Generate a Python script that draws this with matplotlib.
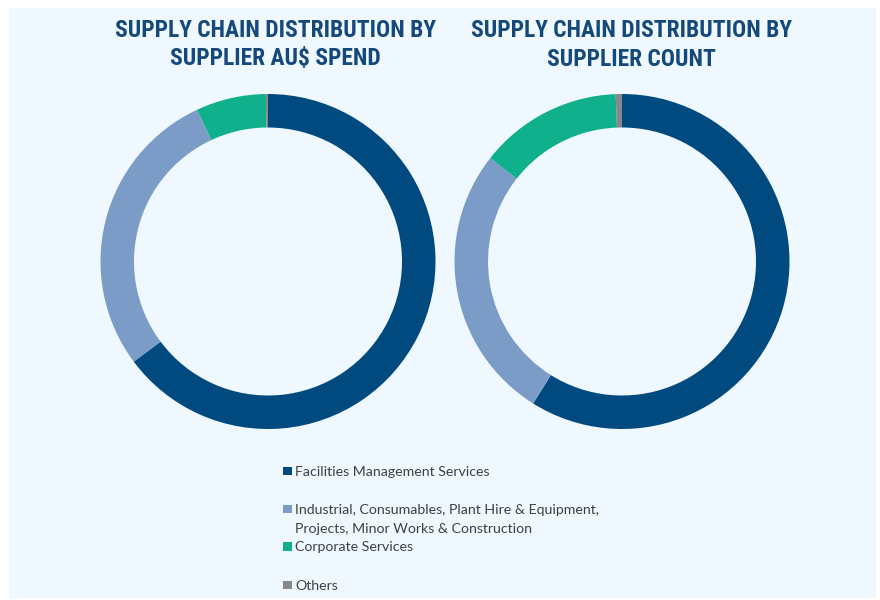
import matplotlib.pyplot as plt
from matplotlib.patches import Rectangle

# data
categories = ['Facilities Management Services',
              'Industrial, Consumables, Plant Hire & Equipment,\nProjects, Minor Works & Construction',
              'Corporate Services',
              'Others']
spend_share = [64.8, 28.25, 6.75, 0.2]
count_share = [58.9, 26.7, 13.8, 0.6]
titles = [('SUPPLY CHAIN DISTRIBUTION BY', 'SUPPLIER AU$ SPEND'),
          ('SUPPLY CHAIN DISTRIBUTION BY', 'SUPPLIER COUNT')]
colors = ['#004A80', '#7A9CC6', '#10B08D', '#888888']

W, H = 880, 600
fig = plt.figure(figsize=(W / 100, H / 100), dpi=100)
fig.patch.set_facecolor('white')

def px(x, y):
    # pixel coords (top-left origin) -> figure fraction
    return x / W, 1 - y / H

# light blue panel
fig.add_artist(Rectangle(px(9, 598), 867 / W, 590 / H, transform=fig.transFigure,
                         facecolor='#EFF8FE', edgecolor='none', zorder=0))

title_font = ['Roboto Condensed', 'DejaVu Sans Condensed', 'Lato']
legend_font = ['Lato', 'DejaVu Sans']

centers = [(268, 261.5), (622, 261.5)]
R = 167.5
title_x = [275, 631]

for (cx, cy), values, (l1, l2), tx in zip(centers, [spend_share, count_share], titles, title_x):
    x0, y0 = px(cx - R, cy + R)
    ax = fig.add_axes([x0, y0, 2 * R / W, 2 * R / H])
    ax.pie(values, colors=colors, startangle=90, counterclock=False,
           wedgeprops=dict(width=0.2, linewidth=0))
    ax.set_xlim(-1, 1)
    ax.set_ylim(-1, 1)
    ax.set_aspect('equal')
    ax.axis('off')
    for line, ty in zip([l1, l2], [30.5, 59]):
        fig.text(*px(tx, ty), line, ha='center', va='center', fontsize=16.9,
                 fontweight='bold', color='#16497B', family=title_font)

# legend drawn by hand so the entries sit like the reference
leg_y = [470.5, 508.5, 546, 584.5]
for label, c, ly in zip(categories, colors, leg_y):
    fig.add_artist(Rectangle(px(283, ly + 4.5), 8.5 / W, 8.5 / H, transform=fig.transFigure,
                             facecolor=c, edgecolor='none'))
    fig.text(*px(295, ly - 5), label, ha='left', va='top', fontsize=10.2,
             color='#404040', family=legend_font, linespacing=1.73)

fig.savefig('out.png', dpi=100)
